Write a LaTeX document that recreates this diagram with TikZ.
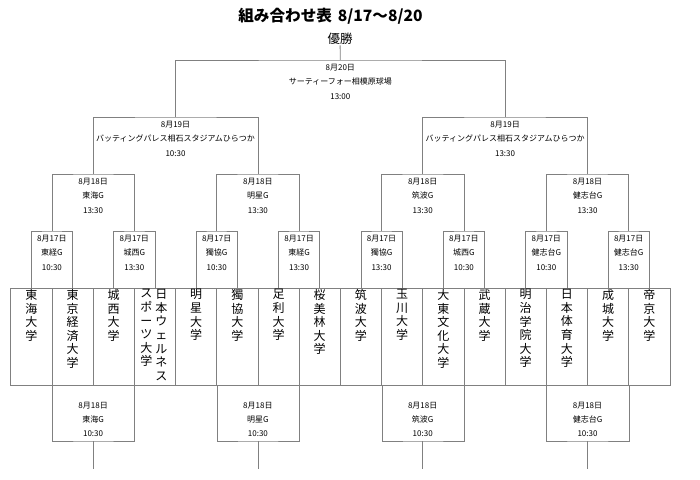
\documentclass[tikz,border=0pt]{standalone}
\usepackage{fontspec}
\setmainfont{Noto Sans CJK JP}
\usetikzlibrary{positioning}
\definecolor{LineColor}{HTML}{808080}
\tikzstyle{team_box}=[rectangle,
                        minimum width=41.2pt,
                        minimum height=97pt,
                        inner sep=0pt,
                        draw=LineColor,
                        line width=0.8pt, ]
\tikzstyle{team_name}=[inner sep=1.6pt, align=center, font=\fontsize{12}{13.6}\selectfont]
\tikzstyle{match_text}=[inner xsep=0pt, inner ysep=4pt, align=center, font=\fontsize{8}{14.3}\selectfont]
\tikzstyle{bracket_line}=[draw=LineColor, line width=0.8pt]

\begin{document}
\begin{tikzpicture}[x=1pt, y=-1pt]
    \useasboundingbox (0,0) rectangle (700,479);
    % ---------------------------------------------------------------------------------------------------------
    %  Titel
    \node at (330.5, 16) (title) [font=\fontsize{15.6}{18}\selectfont\bfseries] {組み合わせ表\hspace{6pt}8/17～8/20};
    \node at (340, 38.5) (win) [inner sep=1pt, font=\fontsize{12.5}{15}\selectfont] {優勝};

    % ---------------------------------------------------------------------------------------------------------
    %  Teams
    \foreach \i in {1,...,16} {
        \node at ({31.3 + 41.2*(\i-1)}, 336.5) (T\i) [team_box] {};
    }
    \foreach \i/\name in {1/{東\\海\\大\\学}, 2/{東\\京\\経\\済\\大\\学}, 3/{城\\西\\大\\学},
                          5/{明\\星\\大\\学}, 6/{獨\\協\\大\\学}, 7/{足\\利\\大\\学}, 8/{桜\\美\\林\\大\\学},
                          9/{筑\\波\\大\\学}, 10/{玉\\川\\大\\学}, 11/{大\\東\\文\\化\\大\\学}, 12/{武\\蔵\\大\\学},
                          13/{明\\治\\学\\院\\大\\学}, 14/{日\\本\\体\\育\\大\\学}, 15/{成\\城\\大\\学}, 16/{帝\\京\\大\\学}} {
        \node (N\i) [team_name, below=0pt of T\i.north] {\name};
    }
    \node (N4a) [team_name, below=0pt of T4.north, xshift=6.5pt] {日\\本\\ウ\\ェ\\ル\\ネ\\ス};
    \node (N4b) [team_name, below=0pt of T4.north, xshift=-8.5pt] {ス\\ポ\\ー\\ツ\\大\\学};

    % ---------------------------------------------------------------------------------------------------------
    %  8月17日
    \foreach \m/\ground/\clock in {1/東経G/10:30, 2/城西G/13:30, 3/獨協G/10:30, 4/東経G/13:30,
                                   5/獨協G/13:30, 6/城西G/10:30, 7/健志台G/10:30, 8/健志台G/13:30} {
        \node at ({10.7 + 41.2*(2*\m-1)}, 231) (R1-\m) [match_text, anchor=north] {8月17日\\\ground\\\clock};
        \pgfmathtruncatemacro{\ta}{2*\m-1}
        \pgfmathtruncatemacro{\tb}{2*\m}
        \draw[bracket_line] (T\ta.north) |- (R1-\m.north) -| (T\tb.north);
    }

    % ---------------------------------------------------------------------------------------------------------
    %  8月18日
    \foreach \k/\ground in {1/東海G, 2/明星G, 3/筑波G, 4/健志台G} {
        \node at ({10.7 + 41.2*(4*\k-2)}, 174) (R2-\k) [match_text, anchor=north] {8月18日\\\ground\\13:30};
        \pgfmathtruncatemacro{\ma}{2*\k-1}
        \pgfmathtruncatemacro{\mb}{2*\k}
        \draw[bracket_line] (R1-\ma.north) |- (R2-\k.north) -| (R1-\mb.north);

        \node at ({10.7 + 41.2*(4*\k-2)}, 441) (Low-\k) [match_text, anchor=south] {8月18日\\\ground\\10:30};
        \pgfmathtruncatemacro{\ta}{4*\k-3}
        \pgfmathtruncatemacro{\tb}{4*\k-1}
        \draw[bracket_line] (T\ta.south east) |- (Low-\k.south) -| (T\tb.south east);
        \coordinate (Low-\k-end) at ({10.7 + 41.2*(4*\k-2)}, 469);
        \draw[bracket_line] (Low-\k.south) -- (Low-\k-end);
    }

    % ---------------------------------------------------------------------------------------------------------
    %  8月19日 en 8月20日
    \node at (175.5, 117) (R3-1) [match_text, anchor=north] {8月19日\\バッティングパレス相石スタジアムひらつか\\10:30};
    \node at (505.1, 117) (R3-2) [match_text, anchor=north] {8月19日\\バッティングパレス相石スタジアムひらつか\\13:30};
    \draw[bracket_line] (R2-1.north) |- (R3-1.north) -| (R2-2.north);
    \draw[bracket_line] (R2-3.north) |- (R3-2.north) -| (R2-4.north);

    \node at (340.3, 60) (Final) [match_text, anchor=north] {8月20日\\サーティーフォー相模原球場\\13:00};
    \draw[bracket_line] (R3-1.north) |- (Final.north) -| (R3-2.north);
    \draw[bracket_line] (win) -- (Final.north);
\end{tikzpicture}
\end{document}
